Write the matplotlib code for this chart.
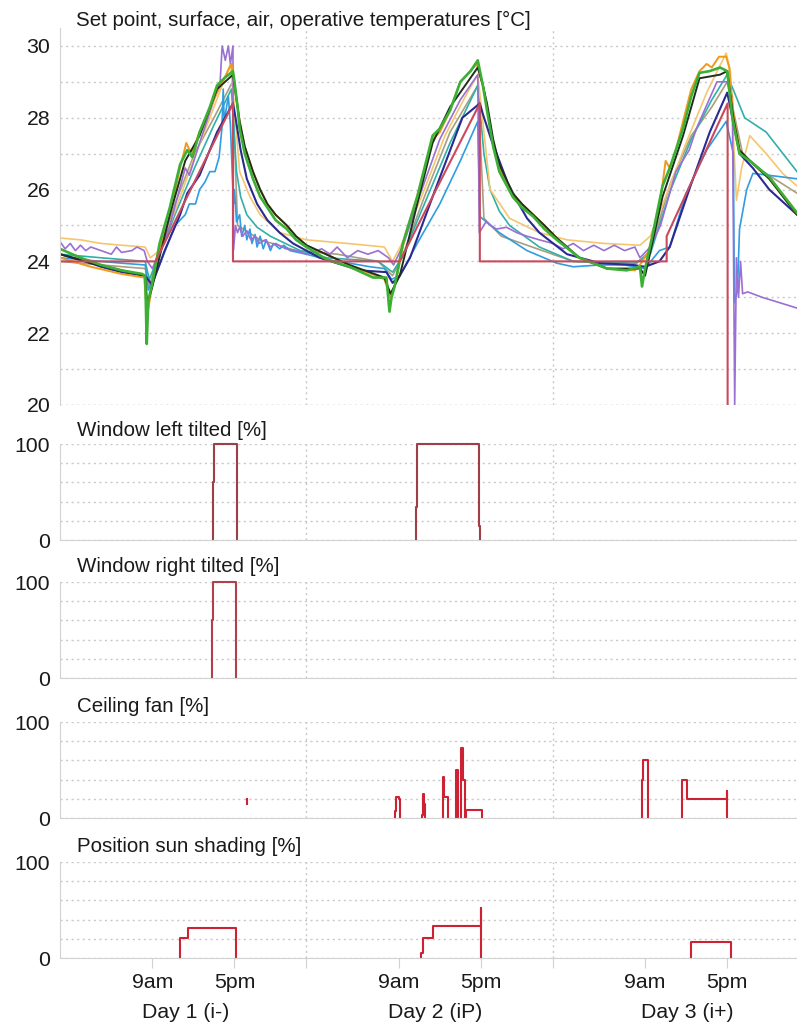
import numpy as np
import matplotlib
matplotlib.use("Agg")
import matplotlib.pyplot as plt

plt.rcParams['font.family'] = ['Liberation Sans', 'DejaVu Sans']

# ---------------- data (hours from start of day 1, values) ----------------
SP_t = [0, 9.3, 16.85, 16.85, 33.1, 40.9, 40.9, 59.1, 59.1, 65.04, 65.04]
SP_T = [24.0, 24.0, 28.4, 24.0, 24.0, 28.4, 24.0, 24.0, 24.7, 28.4, 19.0]

G_t = [0, 2, 4, 6, 8, 8.3, 8.45, 8.6, 9.0, 9.7, 10.7, 11.7, 12.4, 12.9, 13.6, 14.6, 15.3, 16.0, 16.85, 17.0,
       17.3, 17.5, 18.0, 18.8, 19.5, 20.2, 21.0, 22.1, 23.0, 24.0, 26.0, 28.2, 30.5, 31.8, 32.1, 32.3, 32.6,
       33.4, 34.8, 36.3, 37.0, 38.0, 39.0, 40.0, 40.7, 41.2, 41.6, 42.2, 42.8, 44.1, 45.0, 46.1, 47.2, 48.4,
       50.6, 53.3, 55.2, 56.5, 56.7, 57.0, 57.7, 58.7, 59.4, 60.7, 61.5, 62.3, 63.3, 64.3, 65.0, 65.5, 66.2,
       67.2, 69.1, 71.8]
G_T = [24.35, 24.1, 23.9, 23.75, 23.65, 23.6, 21.7, 22.9, 23.4, 24.5, 25.5, 26.7, 27.1, 26.9, 27.6, 28.3, 28.9,
       29.1, 29.3, 29.0, 28.3, 27.7, 27.0, 26.3, 25.8, 25.5, 25.15, 24.9, 24.6, 24.4, 24.05, 23.85, 23.55, 23.55,
       22.6, 23.0, 23.3, 24.5, 25.8, 27.5, 27.7, 28.2, 29.0, 29.3, 29.6, 28.9, 28.2, 27.2, 26.5, 25.8, 25.5,
       25.25, 24.9, 24.6, 24.1, 23.8, 23.75, 23.85, 23.3, 23.8, 24.7, 26.1, 26.6, 27.7, 28.6, 29.25, 29.3,
       29.4, 29.3, 28.0, 27.0, 26.8, 26.35, 25.35]

BK_t = [0, 3, 6, 8.3, 8.5, 9.0, 10.7, 12.2, 13.6, 15.3, 16.85, 17.2, 17.5, 18.0, 18.8, 19.5, 20.2, 21.0, 22.1,
        23.0, 24, 28.2, 31.6, 32.2, 33.1, 34.8, 36.3, 38, 40.7, 41.2, 41.6, 42.2, 42.8, 44.1, 45.0, 46.1, 47.2,
        48.4, 50.6, 53.3, 56.5, 57.0, 58.7, 60.7, 62.3, 64.3, 65.0, 65.6, 66.2, 67.2, 69.1, 71.8]
BK_T = [24.2, 23.95, 23.75, 23.6, 22.8, 23.3, 25.3, 26.8, 27.5, 28.8, 29.2, 28.5, 27.9, 27.2, 26.5, 26.0,
        25.6, 25.3, 25.0, 24.7, 24.45, 23.9, 23.55, 23.1, 23.6, 25.6, 27.3, 28.3, 29.4, 28.9, 28.4, 27.4, 26.7,
        25.9, 25.6, 25.3, 25.0, 24.65, 24.1, 23.8, 23.8, 23.6, 25.8, 27.5, 29.1, 29.2, 29.3, 28.0, 27.1, 26.8,
        26.3, 25.3]

O_t = [0, 3, 6, 8.2, 8.5, 8.9, 9.7, 10.7, 11.7, 12.3, 12.8, 13.6, 15.3, 16.7, 16.9, 17.5, 18.0, 18.8, 19.5,
       20.2, 21.0, 22.1, 23.0, 24, 28.2, 31.6, 32.2, 32.7, 33.6, 35, 36.3, 37.0, 38, 39, 40.6, 41.2, 41.6, 42.2,
       42.8, 44.1, 45.0, 46.1, 47.2, 48.4, 50.6, 53.3, 56.0, 56.5, 57.4, 58.4, 59.0, 59.4, 60.0, 60.7, 61.5,
       62.3, 63.0, 63.5, 64.2, 64.9, 65.2, 65.6, 66.2, 67.2, 69.1, 71.8]
O_T = [24.1, 23.85, 23.65, 23.55, 22.5, 23.2, 24.3, 25.3, 26.6, 27.3, 27.0, 27.6, 28.7, 29.5, 29.1, 27.9,
       27.2, 26.5, 26.0, 25.6, 25.3, 25.0, 24.7, 24.45, 23.9, 23.5, 23.0, 23.4, 24.7, 26.0, 27.4, 27.6, 28.2,
       29.0, 29.5, 28.9, 28.3, 27.3, 26.6, 25.9, 25.6, 25.3, 25.0, 24.65, 24.1, 23.8, 23.75, 23.9, 24.3, 25.5,
       26.8, 26.6, 27.1, 27.9, 28.8, 29.3, 29.5, 29.4, 29.7, 29.7, 29.4, 28.1, 27.1, 26.8, 26.3, 25.3]

LO_t = [0, 2, 4, 6, 8.3, 8.8, 9.7, 11.2, 13.1, 15.0, 16.6, 16.9, 17.5, 18.5, 19.5, 21.4, 24, 28, 31.6, 32.4,
        33.5, 35.5, 37.5, 39.5, 40.7, 41.9, 43.8, 46.7, 49.4, 53.0, 56.5, 57.5, 59.0, 61.0, 63.0, 64.9, 65.3,
        65.9, 66.4, 67.2, 68.8, 70.4, 71.8]
LO_T = [24.65, 24.6, 24.5, 24.45, 24.4, 24.1, 24.3, 25.4, 26.9, 28.3, 29.5, 28.6, 26.5, 25.8, 25.3, 24.8,
        24.6, 24.5, 24.4, 24.0, 24.6, 26.0, 27.5, 28.6, 29.2, 26.0, 25.2, 24.8, 24.6, 24.5, 24.45, 24.7, 25.8,
        27.3, 28.7, 29.8, 29.3, 25.7, 26.6, 27.5, 27.0, 26.45, 26.1]

P_t = [0, 0.5, 1, 1.5, 2, 2.5, 3, 4, 5, 5.5, 6, 7, 7.5, 8.2, 8.5, 9.0, 10.7, 12.2, 12.6, 13.6, 15.0, 15.6,
       15.8, 16.1, 16.4, 16.6, 16.85, 16.9, 17.1, 17.3, 17.5, 17.8, 18.2, 18.6, 19.0, 19.4, 20.0, 20.5, 21.0,
       22.0, 23.0, 24.0, 25.5, 26.3, 27.0, 28.0, 29.0, 30.0, 31.0, 32.0, 32.5, 33.5, 35.0, 37.0, 39.0, 40.7,
       40.85, 41.5, 42.5, 43.5, 44.5, 45.5, 46.7, 48.0, 49.0, 50.0, 51.0, 52.0, 53.0, 54.0, 55.0, 56.0, 56.5,
       57.5, 58.5, 60.0, 61.3, 62.0, 64.0, 65.0, 65.5, 65.73, 65.9, 66.1, 66.3, 66.5, 67.0, 68.4, 70.1, 71.8]
P_T = [24.55, 24.35, 24.5, 24.3, 24.45, 24.3, 24.4, 24.3, 24.2, 24.4, 24.25, 24.3, 24.4, 24.3, 24.0, 23.8,
       25.0, 26.6, 26.4, 27.3, 28.5, 29.0, 30.0, 29.6, 30.0, 29.5, 30.0, 24.3, 25.0, 24.8, 24.95, 24.7, 24.85,
       24.6, 24.7, 24.5, 24.6, 24.4, 24.5, 24.35, 24.3, 24.2, 24.35, 24.2, 24.4, 24.1, 24.3, 24.2, 24.3, 24.1,
       23.9, 24.5, 25.8, 27.4, 28.5, 29.2, 24.8, 25.1, 24.9, 24.95, 24.8, 24.7, 24.6, 24.5, 24.35, 24.5, 24.3,
       24.45, 24.3, 24.45, 24.3, 24.4, 24.1, 24.4, 25.0, 26.5, 27.1, 27.7, 29.0, 29.0, 28.6, 20.0, 24.1, 23.0,
       24.0, 23.1, 23.15, 23.0, 22.85, 22.7]

LB_t = [0, 2, 4, 6, 8.3, 8.6, 9.7, 11.2, 12.2, 12.6, 13.2, 13.6, 14.1, 14.6, 15.1, 15.5, 15.77, 15.9, 16.0,
        16.4, 16.6, 16.9, 17.0, 17.2, 17.5, 17.7, 18.0, 18.2, 18.5, 18.7, 19.0, 19.2, 19.5, 19.8, 20.1, 20.5,
        20.8, 21.4, 21.8, 22.4, 24, 26, 28.2, 30.2, 31.6, 32.3, 33.1, 35, 37, 39, 40.7, 40.9, 42.8, 45.5, 48.4,
        50, 52.6, 55, 57, 58.4, 59.4, 61, 63, 64.9, 65.6, 65.7, 66.0, 66.2, 66.9, 67.5, 69, 71.8]
LB_T = [24.1, 24.05, 24.0, 23.95, 23.9, 23.2, 23.9, 25.0, 25.3, 25.6, 25.6, 26.0, 26.2, 26.5, 26.5, 26.9,
        27.7, 28.8, 27.9, 28.6, 27.8, 25.6, 26.0, 25.1, 25.3, 24.7, 25.0, 24.6, 24.9, 24.5, 24.75, 24.4, 24.7,
        24.35, 24.6, 24.3, 24.5, 24.35, 24.45, 24.3, 24.2, 24.05, 23.95, 23.85, 23.8, 23.5, 23.6, 24.6, 25.6,
        26.8, 27.9, 25.25, 24.8, 24.3, 23.95, 23.85, 23.9, 23.9, 23.8, 24.3, 24.4, 25.9, 27.1, 27.9, 27.0,
        22.85, 23.2, 24.9, 26.0, 26.45, 26.4, 26.3]

N_t = [0, 2, 4, 6, 8.3, 8.96, 10.2, 11.7, 12.4, 13.6, 15.3, 16.85, 17.1, 17.6, 18.2, 19.2, 20.2, 21.4, 22.7,
       25.3, 29.2, 31.8, 32.4, 33.1, 34.1, 36.3, 39.2, 40.9, 41.2, 42.0, 42.8, 43.6, 44.5, 45.5, 46.7, 49.4,
       52.6, 55.8, 57, 58.4, 59.4, 61.3, 63.3, 65.0, 65.3, 66.2, 67.5, 69.1, 71.8]
N_T = [24.2, 24.05, 23.85, 23.7, 23.6, 23.35, 24.3, 25.3, 25.9, 26.4, 27.6, 28.4, 28.0, 27.1, 26.3, 25.6,
       25.15, 24.8, 24.5, 24.1, 23.75, 23.7, 23.4, 23.6, 24.1, 25.8, 28.0, 28.4, 28.1, 27.4, 26.8, 26.2, 25.7,
       25.2, 24.8, 24.2, 23.95, 23.9, 23.85, 24.0, 24.4, 26.0, 27.6, 28.7, 28.3, 27.0, 26.6, 26.0, 25.3]

TE_t = [0, 4, 8.3, 8.7, 9.7, 11.2, 13.1, 15.0, 16.7, 17.2, 17.6, 18.2, 19.2, 20.5, 23.4, 26, 31, 32.4, 33.3,
        35.5, 38.0, 40.7, 41.3, 41.9, 42.8, 43.8, 46.7, 50, 56, 57.5, 59.5, 61.5, 63.5, 65.0, 66.7, 68.8, 71.8]
TE_T = [24.2, 24.1, 24.0, 23.5, 24.2, 25.3, 26.6, 27.8, 28.8, 26.5, 25.8, 25.3, 24.95, 24.7, 24.3, 24.1, 24.0,
        23.7, 24.1, 25.6, 27.3, 28.9, 27.0, 26.0, 25.4, 25.0, 24.4, 24.0, 23.95, 24.2, 26.0, 27.4, 28.5, 29.2,
        28.0, 27.6, 26.5]

OL_t = [0, 4, 8.3, 8.7, 9.7, 11.2, 13.1, 15.0, 16.8, 17.3, 19.5, 23, 27, 31, 32.4, 33.3, 35.5, 38.0, 40.7,
        41.3, 43, 46, 50, 56, 57.5, 59.5, 61.5, 63.5, 65.0, 66.5, 68.5, 71.8]
OL_T = [24.0, 23.9, 23.8, 23.3, 24.3, 25.6, 27.0, 28.0, 29.0, 25.0, 24.6, 24.3, 24.2, 24.0, 23.6, 24.1, 25.8,
        27.6, 28.9, 25.2, 24.7, 24.4, 24.0, 23.9, 24.3, 26.2, 27.5, 28.3, 29.0, 27.0, 26.5, 25.9]

NAN = float('nan')
WL_t = [14.9, 14.9, 15.05, 17.2, NAN, 34.7, 34.7, 34.8, 40.8, 40.95]
WL_v = [0, 60, 100, 0, NAN, 0, 34, 100, 15, 0]
WR_t = [14.8, 14.8, 14.95, 17.1]
WR_v = [0, 60, 100, 0]
FAN_t = [18.2, 18.2, NAN, 32.6, 32.6, 32.75, 33.0, 33.1, NAN, 35.25, 35.25, 35.35, 35.5, 35.6, NAN,
         37.3, 37.3, 37.45, 37.8, NAN, 38.55, 38.55, 38.75, NAN, 39.1, 39.1, 39.25, 39.45, 39.6, 41.1, NAN,
         56.7, 56.7, 56.8, 57.3, NAN, 60.6, 60.6, 61.1, 65.0, 65.0]
FAN_v = [15, 20, NAN, 0, 7, 22, 20, 0, NAN, 0, 3, 25, 15, 0, NAN,
         0, 43, 22, 0, NAN, 0, 50, 0, NAN, 0, 73, 40, 0, 8, 0, NAN,
         0, 40, 60, 0, NAN, 0, 40, 20, 28, 0]
SH_t = [11.7, 11.7, 12.5, 17.1, NAN, 35.2, 35.2, 35.35, 36.3, 41.0, 41.0, NAN, 61.5, 61.5, 65.4]
SH_v = [0, 21, 31, 0, NAN, 0, 5, 21, 33, 52, 0, NAN, 0, 17, 0]

XTICKS = [9, 17, 24, 33, 41, 48, 57, 65]
XTICKLABELS = ['9am', '5pm', '', '9am', '5pm', '', '9am', '5pm']
DAY_POS = [12.2, 36.6, 61.1]
DAY_LABELS = ['Day 1 (i-)', 'Day 2 (iP)', 'Day 3 (i+)']

# ---------------- figure ----------------
W, H = 797, 1028
fig = plt.figure(figsize=(W / 100, H / 100), dpi=100)
TXT = '#1a1a1a'
GRID = '#c8c8c8'
SPINE = '#d2d2d2'
FS = 15.3

left = 60 / W
width = 1 - left
XMAX = 71.8


def ax_at(top_px, bot_px):
    return fig.add_axes([left, 1 - bot_px / H, width, (bot_px - top_px) / H])


def style(ax):
    for s in ['top', 'right']:
        ax.spines[s].set_visible(False)
    ax.spines['left'].set_color(SPINE)
    ax.spines['bottom'].set_color(SPINE)
    ax.set_xlim(0, XMAX)
    ax.tick_params(axis='y', length=0, pad=7, labelsize=FS, labelcolor=TXT)
    ax.grid(True, axis='y', which='both', color=GRID, linestyle=(0, (1.5, 2.5)), linewidth=1.0)
    for d in [24, 48]:
        ax.axvline(d, color=GRID, linestyle=(0, (1.5, 2.5)), linewidth=1.0, zorder=0)
    ax.set_axisbelow(True)


# temperature panel
axT = ax_at(28, 405)
style(axT)
axT.set_ylim(20, 30.5)
axT.set_yticks([20, 22, 24, 26, 28, 30])
axT.set_yticks([21, 23, 25, 27, 29], minor=True)
axT.tick_params(axis='y', which='minor', length=0)
axT.spines['bottom'].set_visible(False)
axT.axhline(20, color=GRID, linestyle=(0, (1.5, 2.5)), linewidth=1.0, zorder=0)
axT.set_xticks([])

series = [
    (OL_t, OL_T, '#a89f80', 1.2),
    (TE_t, TE_T, '#2fb0a8', 1.2),
    (LO_t, LO_T, '#f5c66e', 1.2),
    (LB_t, LB_T, '#2f9de0', 1.2),
    (P_t, P_T, '#9b6fd3', 1.2),
    (N_t, N_T, '#2a2a92', 1.5),
    (O_t, O_T, '#f09a1c', 1.4),
    (BK_t, BK_T, '#1f2f1f', 1.4),
    (G_t, G_T, '#3cb034', 1.9),
    (SP_t, SP_T, '#c84a5c', 1.5),
]
for t, v, c, lw in series:
    axT.plot(t, v, color=c, lw=lw)

fig.text(76 / W, 1 - 20 / H, 'Set point, surface, air, operative temperatures [°C]',
         fontsize=14.8, color=TXT, va='center', ha='left')

# percent panels
panels = [
    (444, 540, 'Window left tilted [%]', 430, WL_t, WL_v, '#9e3f47'),
    (582, 678, 'Window right tilted [%]', 567, WR_t, WR_v, '#b0404a'),
    (722, 818, 'Ceiling fan [%]', 707, FAN_t, FAN_v, '#cc2233'),
    (862, 958, 'Position sun shading [%]', 847, SH_t, SH_v, '#cc2233'),
]
axes = []
for top, bot, title, ty, t, v, c in panels:
    ax = ax_at(top, bot)
    style(ax)
    ax.set_ylim(0, 100)
    ax.set_yticks([0, 100])
    ax.set_yticks([20, 40, 60, 80], minor=True)
    ax.tick_params(axis='y', which='minor', length=0)
    ax.set_xticks([])
    t = np.asarray(t, float)
    v = np.asarray(v, float)
    breaks = np.where(np.isnan(t))[0]
    segs = np.split(np.arange(len(t)), breaks)
    for idx in segs:
        idx = idx[~np.isnan(t[idx])]
        if len(idx):
            ax.plot(t[idx], v[idx], drawstyle='steps-post', color=c, lw=1.5, clip_on=False)
    fig.text(77 / W, 1 - ty / H, title, fontsize=14.8, color=TXT, va='center', ha='left')
    axes.append(ax)

axS = axes[-1]
axS.set_xticks(XTICKS)
axS.set_xticklabels(XTICKLABELS)
axS.tick_params(axis='x', length=7, color=SPINE, pad=4, labelsize=FS, labelcolor=TXT)

for p, lab in zip(DAY_POS, DAY_LABELS):
    xf = left + width * p / XMAX
    fig.text(xf, 1 - 1012 / H, lab, fontsize=FS, color=TXT, ha='center', va='center')

fig.savefig('out.png', dpi=100)
